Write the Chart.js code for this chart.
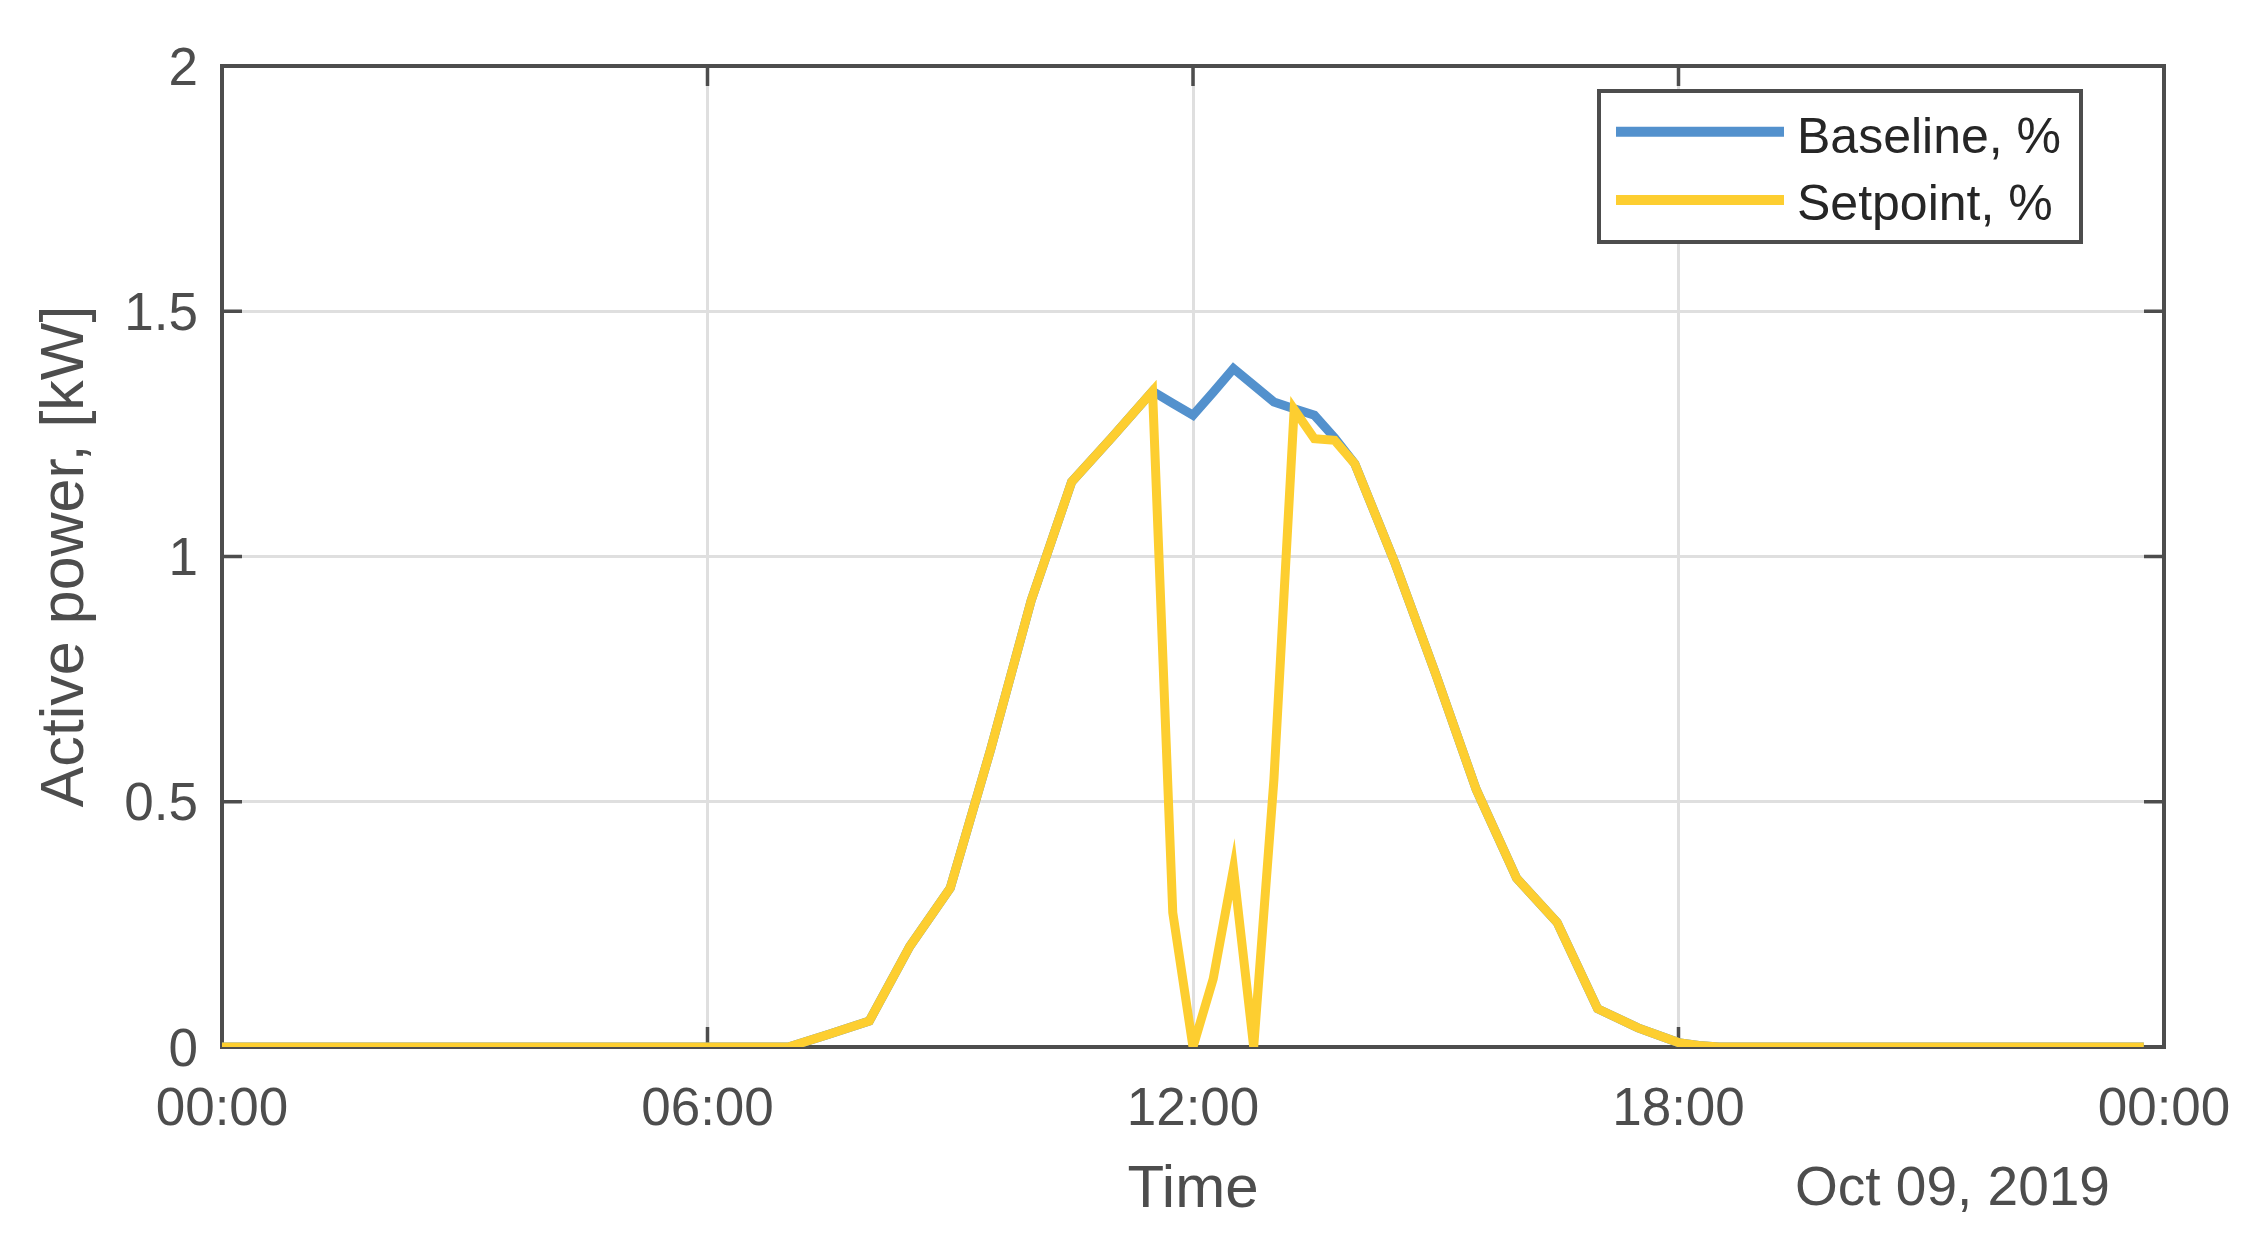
<!DOCTYPE html>
<html>
<head>
<meta charset="utf-8">
<script src="https://cdn.jsdelivr.net/npm/chart.js@4.4.1/dist/chart.umd.min.js"></script>
<style>
  html, body { margin: 0; padding: 0; background: #ffffff; }
  canvas { display: block; }
</style>
</head>
<body>
<canvas id="c" width="2264" height="1250"></canvas>
<script>
// ---- data ----
const hours = [0, 7, 7.5, 8, 8.5, 9, 9.5, 10, 10.5, 11, 11.5, 11.75, 12, 12.25, 12.5, 12.75,
               13, 13.25, 13.5, 13.75, 14, 14.5, 15, 15.5, 16, 16.5, 17, 17.5, 18, 18.25, 18.5, 23.75];
const baseline = [0, 0, 0.026, 0.053, 0.205, 0.324, 0.607, 0.91, 1.152, 1.243, 1.337, 1.312, 1.288, 1.335, 1.383, 1.349,
                  1.315, 1.301, 1.288, 1.242, 1.189, 0.985, 0.76, 0.525, 0.344, 0.254, 0.078, 0.039, 0.009, 0.003, 0, 0];
const setpoint = [0, 0, 0.026, 0.053, 0.205, 0.324, 0.607, 0.91, 1.152, 1.243, 1.337, 0.274, 0, 0.139, 0.363, 0,
                  0.545, 1.30, 1.24, 1.237, 1.189, 0.985, 0.76, 0.525, 0.344, 0.254, 0.078, 0.039, 0.009, 0.003, 0, 0];
const seriesLabels = ['Baseline, %', 'Setpoint, %'];
const xTickLabels = ['00:00', '06:00', '12:00', '18:00', '00:00'];
const yTickLabels = ['0', '0.5', '1', '1.5', '2'];
const dateLabel = 'Oct 09, 2019';
const xTitle = 'Time';
const yTitle = 'Active power, [kW]';

// ---- styles ----
const FONT = '"Liberation Sans", Arial, Helvetica, sans-serif';
const AXIS = '#4d4d4d';
const GRID = '#dfdfdf';
const BLUE = '#5391cd';
const YELLOW = '#fdce30';

const framePlugin = {
  id: 'frame',
  beforeDatasetsDraw(chart) {
    const {ctx, chartArea: a, scales} = chart;
    ctx.save();
    ctx.strokeStyle = AXIS;
    ctx.lineWidth = 4;
    ctx.strokeRect(a.left, a.top, a.right - a.left, a.bottom - a.top);
    ctx.lineWidth = 3.5;
    const tl = 20;
    ctx.beginPath();
    scales.x.ticks.forEach(t => {
      const px = scales.x.getPixelForValue(t.value);
      ctx.moveTo(px, a.bottom); ctx.lineTo(px, a.bottom - tl);
      ctx.moveTo(px, a.top); ctx.lineTo(px, a.top + tl);
    });
    scales.y.ticks.forEach(t => {
      const py = scales.y.getPixelForValue(t.value);
      ctx.moveTo(a.left, py); ctx.lineTo(a.left + tl, py);
      ctx.moveTo(a.right, py); ctx.lineTo(a.right - tl, py);
    });
    ctx.stroke();
    ctx.restore();
  },
  afterDraw(chart) {
    const {ctx} = chart;
    ctx.save();
    ctx.fillStyle = AXIS;
    ctx.font = '55px ' + FONT;
    ctx.textAlign = 'left';
    ctx.textBaseline = 'alphabetic';
    ctx.fillText(dateLabel, 1795, 1205);
    ctx.restore();
  }
};

const legendPlugin = {
  id: 'boxLegend',
  afterDatasetsDraw(chart) {
    const {ctx} = chart;
    const bx = 1599, by = 91, bw = 482, bh = 151;
    ctx.save();
    ctx.fillStyle = '#ffffff';
    ctx.fillRect(bx, by, bw, bh);
    ctx.strokeStyle = AXIS;
    ctx.lineWidth = 4;
    ctx.strokeRect(bx, by, bw, bh);
    const rows = [131.7, 200];
    const base = [152.7, 220];
    chart.data.datasets.forEach((ds, i) => {
      ctx.strokeStyle = ds.borderColor;
      ctx.lineWidth = 10;
      ctx.beginPath();
      ctx.moveTo(1616, rows[i]);
      ctx.lineTo(1784, rows[i]);
      ctx.stroke();
      ctx.fillStyle = '#262626';
      ctx.font = '50px ' + FONT;
      ctx.textAlign = 'left';
      ctx.textBaseline = 'alphabetic';
      ctx.fillText(ds.label, 1797, base[i]);
    });
    ctx.restore();
  }
};

new Chart(document.getElementById('c').getContext('2d'), {
  type: 'line',
  data: {
    datasets: [
      {
        label: seriesLabels[0],
        data: hours.map((h, i) => ({x: h, y: baseline[i]})),
        borderColor: BLUE, backgroundColor: BLUE,
        borderWidth: 9, pointRadius: 0, tension: 0, fill: false, order: 1
      },
      {
        label: seriesLabels[1],
        data: hours.map((h, i) => ({x: h, y: setpoint[i]})),
        borderColor: YELLOW, backgroundColor: YELLOW,
        borderWidth: 9, pointRadius: 0, tension: 0, fill: false, order: 0
      }
    ]
  },
  options: {
    responsive: false,
    animation: false,
    devicePixelRatio: 1,
    layout: { padding: { top: 66, right: 100, left: 0, bottom: 0 } },
    plugins: { legend: { display: false }, tooltip: { enabled: false } },
    scales: {
      x: {
        type: 'linear', min: 0, max: 24,
        ticks: {
          stepSize: 6, autoSkip: false, maxRotation: 0, padding: 32,
          color: AXIS, font: { family: FONT, size: 53 },
          callback: (v, i) => xTickLabels[i]
        },
        grid: { color: GRID, lineWidth: 3, drawTicks: false },
        border: { display: false },
        title: {
          display: true, text: xTitle, color: AXIS,
          font: { family: FONT, size: 60 }, padding: { top: 0, bottom: 24 }
        },
        afterFit: s => { s.height = 203; }
      },
      y: {
        min: 0, max: 2,
        ticks: {
          stepSize: 0.5, padding: 24, labelOffset: 4,
          color: AXIS, font: { family: FONT, size: 53 },
          callback: (v, i) => yTickLabels[i]
        },
        grid: { color: GRID, lineWidth: 3, drawTicks: false },
        border: { display: false },
        title: {
          display: true, text: yTitle, color: AXIS,
          font: { family: FONT, size: 61 }, padding: { top: 30, bottom: 0 }
        },
        afterFit: s => { s.width = 222; }
      }
    }
  },
  plugins: [framePlugin, legendPlugin]
});
</script>
</body>
</html>
